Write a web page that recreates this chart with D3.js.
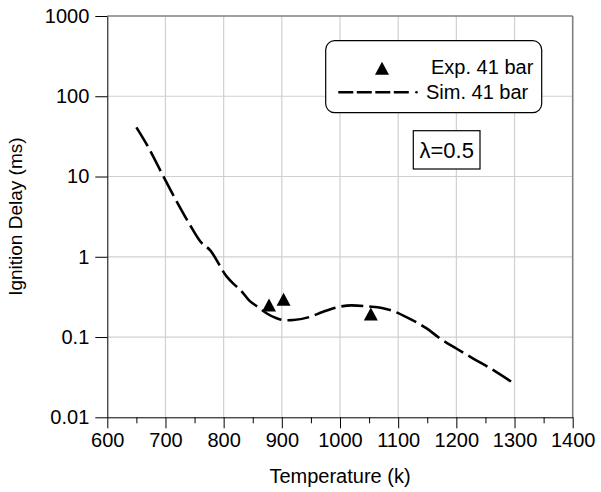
<!DOCTYPE html>
<html><head><meta charset="utf-8">
<script src="https://cdn.jsdelivr.net/npm/d3@7"></script>
<style>body{margin:0;background:#fff}svg{display:block}text{font-family:"Liberation Sans",Arial,sans-serif;fill:#000}</style>
</head><body><svg id="c" width="601" height="492"></svg>
<script>
const xTicks = [600, 700, 800, 900, 1000, 1100, 1200, 1300, 1400];
const xMinor = [650, 750, 850, 950, 1050, 1150, 1250, 1350];
const yTicks = [0.01, 0.1, 1, 10, 100, 1000];
const yTickLabels = ["0.01", "0.1", "1", "10", "100", "1000"];
const simT = [650, 670, 695, 716, 742, 760, 777, 805, 817, 829, 845, 858, 875, 891, 905, 920, 948, 970, 994, 1020, 1050, 1072, 1086, 1115, 1149, 1172, 1200, 1229, 1258, 1297];
const simDelay = [41, 23.5, 10.5, 5.4, 2.5, 1.55, 1.2, 0.57, 0.46, 0.385, 0.28, 0.24, 0.195, 0.171, 0.162, 0.163, 0.178, 0.205, 0.234, 0.248, 0.24, 0.23, 0.217, 0.176, 0.128, 0.096, 0.072, 0.054, 0.041, 0.027];
const expT = [878, 903, 1053];
const expDelay = [0.25, 0.295, 0.194];
const legendLabels = ["Exp. 41 bar", "Sim. 41 bar"];
const noteLabel = "λ=0.5";
const xTitle = "Temperature (k)";
const yTitle = "Ignition Delay (ms)";

const svg = d3.select("#c");
const L = 107.3, R = 572.7, T = 16, B = 417.3;
const x = d3.scaleLinear().domain([600, 1400]).range([L, R]);
const y = d3.scaleLog().domain([0.01, 1000]).range([B, T]);

// grid
const g = svg.append("g");
g.selectAll(".vg").data(xTicks.slice(1, -1)).enter().append("line")
  .attr("x1", d => x(d)).attr("x2", d => x(d)).attr("y1", T).attr("y2", B)
  .attr("stroke", "#d0d0d0").attr("stroke-width", 1.2);
g.selectAll(".hg").data(yTicks.slice(1, -1)).enter().append("line")
  .attr("x1", L).attr("x2", R).attr("y1", d => y(d)).attr("y2", d => y(d))
  .attr("stroke", "#d0d0d0").attr("stroke-width", 1.2);
// top and right frame
g.append("line").attr("x1", L).attr("x2", R).attr("y1", y(1000)).attr("y2", y(1000)).attr("stroke", "#808080").attr("stroke-width", 1.6);
g.append("line").attr("x1", x(1400)).attr("x2", x(1400)).attr("y1", T).attr("y2", B).attr("stroke", "#808080").attr("stroke-width", 1.6);

// axes
svg.append("g").attr("transform", `translate(0,${B})`)
  .call(d3.axisBottom(x).tickValues(xTicks).tickSize(11).tickSizeOuter(0).tickPadding(5).tickFormat(d3.format("d")));
svg.append("g").attr("transform", `translate(0,${B})`)
  .call(d3.axisBottom(x).tickValues(xMinor).tickSize(6).tickSizeOuter(0).tickFormat(""))
  .call(a => a.select(".domain").remove());
svg.append("g").attr("transform", `translate(${L},0)`)
  .call(d3.axisLeft(y).tickValues(yTicks).tickSize(12).tickSizeOuter(0).tickPadding(6).tickFormat((d, i) => yTickLabels[i]));
svg.selectAll(".tick text").attr("font-size", 20).attr("font-family", "Liberation Sans, Arial, sans-serif");
svg.selectAll(".domain, .tick line").attr("stroke", "#000");

// titles
svg.append("text").attr("x", (L + R) / 2).attr("y", 483).attr("text-anchor", "middle").attr("font-size", 20).text(xTitle);
svg.append("text").attr("transform", `translate(22,${(T + B) / 2}) rotate(-90)`).attr("text-anchor", "middle").attr("font-size", 19).text(yTitle);

// simulation line
const line = d3.line().x(d => x(d[0])).y(d => y(d[1])).curve(d3.curveMonotoneX);
svg.append("path").datum(simT.map((t, i) => [t, simDelay[i]])).attr("d", line)
  .attr("fill", "none").attr("stroke", "#000").attr("stroke-width", 2.6).attr("stroke-dasharray", "22,6");

// triangles
const tri = (cx, cy, w, h) => `M${cx},${cy - h / 2}L${cx + w / 2},${cy + h / 2}L${cx - w / 2},${cy + h / 2}Z`;
svg.selectAll(".exp").data(expT.map((t, i) => [t, expDelay[i]])).enter().append("path")
  .attr("d", d => tri(x(d[0]), y(d[1]), 14, 13)).attr("fill", "#000");

// legend
const lg = svg.append("g");
lg.append("rect").attr("x", 325.7).attr("y", 40.7).attr("width", 216).attr("height", 72).attr("rx", 9)
  .attr("fill", "#fff").attr("stroke", "#000").attr("stroke-width", 1.2);
lg.append("path").attr("d", tri(382, 68.3, 14, 13)).attr("fill", "#000");
lg.append("text").attr("x", 431).attr("y", 74.3).attr("font-size", 20).text(legendLabels[0]);
lg.append("line").attr("x1", 338.3).attr("x2", 411).attr("y1", 92.3).attr("y2", 92.3)
  .attr("stroke", "#000").attr("stroke-width", 2.6).attr("stroke-dasharray", "15,3.5");
lg.append("circle").attr("cx", 416.5).attr("cy", 92.3).attr("r", 1.3).attr("fill", "#000");
lg.append("text").attr("x", 426).attr("y", 99).attr("font-size", 20).text(legendLabels[1]);

// lambda note
svg.append("rect").attr("x", 413.3).attr("y", 130.7).attr("width", 66.7).attr("height", 38.3)
  .attr("fill", "#fff").attr("stroke", "#000").attr("stroke-width", 1.2);
svg.append("text").attr("x", 446.7).attr("y", 158).attr("text-anchor", "middle").attr("font-size", 22).text(noteLabel);
</script></body></html>
